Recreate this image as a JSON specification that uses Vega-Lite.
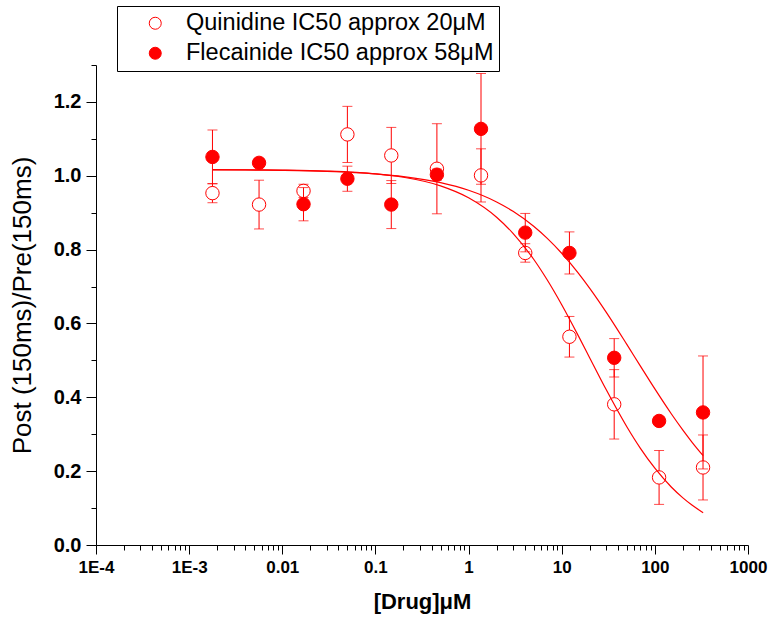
{
  "$schema": "https://vega.github.io/schema/vega-lite/v6.json",
  "autosize": {"type": "none"},
  "width": 652,
  "height": 480,
  "padding": {"left": 96, "top": 65, "right": 23, "bottom": 78},
  "background": "white",
  "config": {
    "font": "Liberation Sans",
    "view": {"stroke": null},
    "axis": {"grid": false, "domainColor": "black", "tickColor": "black", "labelColor": "black", "titleColor": "black", "labelFlush": false, "labelOverlap": false}
  },
  "datasets": {
    "measured": [
      {"drug": "Quinidine", "conc": 0.00178, "mean": 0.953, "sem": 0.026},
      {"drug": "Quinidine", "conc": 0.00563, "mean": 0.922, "sem": 0.066},
      {"drug": "Quinidine", "conc": 0.0169, "mean": 0.959, "sem": 0.018},
      {"drug": "Quinidine", "conc": 0.05, "mean": 1.112, "sem": 0.076},
      {"drug": "Quinidine", "conc": 0.148, "mean": 1.055, "sem": 0.076},
      {"drug": "Quinidine", "conc": 0.457, "mean": 1.019, "sem": 0.122},
      {"drug": "Quinidine", "conc": 1.36, "mean": 1.001, "sem": 0.072},
      {"drug": "Quinidine", "conc": 4.06, "mean": 0.791, "sem": 0.025},
      {"drug": "Quinidine", "conc": 12.1, "mean": 0.564, "sem": 0.055},
      {"drug": "Quinidine", "conc": 36.6, "mean": 0.381, "sem": 0.094},
      {"drug": "Quinidine", "conc": 111, "mean": 0.183, "sem": 0.073},
      {"drug": "Quinidine", "conc": 329, "mean": 0.21, "sem": 0.088},
      {"drug": "Flecainide", "conc": 0.00178, "mean": 1.051, "sem": 0.073},
      {"drug": "Flecainide", "conc": 0.00563, "mean": 1.035, "sem": 0.012},
      {"drug": "Flecainide", "conc": 0.0169, "mean": 0.923, "sem": 0.045},
      {"drug": "Flecainide", "conc": 0.05, "mean": 0.992, "sem": 0.034},
      {"drug": "Flecainide", "conc": 0.148, "mean": 0.922, "sem": 0.065},
      {"drug": "Flecainide", "conc": 0.457, "mean": 1.003, "sem": 0.015},
      {"drug": "Flecainide", "conc": 1.36, "mean": 1.127, "sem": 0.15},
      {"drug": "Flecainide", "conc": 4.06, "mean": 0.846, "sem": 0.052},
      {"drug": "Flecainide", "conc": 12.1, "mean": 0.791, "sem": 0.057},
      {"drug": "Flecainide", "conc": 36.6, "mean": 0.507, "sem": 0.052},
      {"drug": "Flecainide", "conc": 111, "mean": 0.336, "sem": 0.01},
      {"drug": "Flecainide", "conc": 329, "mean": 0.359, "sem": 0.153}
    ],
    "fitted": [
      {"drug": "Quinidine", "conc": 0.0018, "fit": 1.0166},
      {"drug": "Quinidine", "conc": 0.004, "fit": 1.0162},
      {"drug": "Quinidine", "conc": 0.01, "fit": 1.0153},
      {"drug": "Quinidine", "conc": 0.03, "fit": 1.0127},
      {"drug": "Quinidine", "conc": 0.1, "fit": 1.0052},
      {"drug": "Quinidine", "conc": 0.2, "fit": 0.996},
      {"drug": "Quinidine", "conc": 0.5, "fit": 0.9727},
      {"drug": "Quinidine", "conc": 1, "fit": 0.9405},
      {"drug": "Quinidine", "conc": 2, "fit": 0.8878},
      {"drug": "Quinidine", "conc": 3, "fit": 0.8441},
      {"drug": "Quinidine", "conc": 5, "fit": 0.7739},
      {"drug": "Quinidine", "conc": 7, "fit": 0.7176},
      {"drug": "Quinidine", "conc": 10, "fit": 0.6507},
      {"drug": "Quinidine", "conc": 15, "fit": 0.5677},
      {"drug": "Quinidine", "conc": 20, "fit": 0.5066},
      {"drug": "Quinidine", "conc": 30, "fit": 0.4209},
      {"drug": "Quinidine", "conc": 50, "fit": 0.3203},
      {"drug": "Quinidine", "conc": 70, "fit": 0.2618},
      {"drug": "Quinidine", "conc": 100, "fit": 0.2079},
      {"drug": "Quinidine", "conc": 150, "fit": 0.1571},
      {"drug": "Quinidine", "conc": 200, "fit": 0.1276},
      {"drug": "Quinidine", "conc": 250, "fit": 0.1081},
      {"drug": "Quinidine", "conc": 330, "fit": 0.0876},
      {"drug": "Flecainide", "conc": 0.0018, "fit": 1.0162},
      {"drug": "Flecainide", "conc": 0.004, "fit": 1.0157},
      {"drug": "Flecainide", "conc": 0.01, "fit": 1.0145},
      {"drug": "Flecainide", "conc": 0.03, "fit": 1.0117},
      {"drug": "Flecainide", "conc": 0.1, "fit": 1.005},
      {"drug": "Flecainide", "conc": 0.2, "fit": 0.9977},
      {"drug": "Flecainide", "conc": 0.5, "fit": 0.9813},
      {"drug": "Flecainide", "conc": 1, "fit": 0.9607},
      {"drug": "Flecainide", "conc": 2, "fit": 0.9291},
      {"drug": "Flecainide", "conc": 3, "fit": 0.9038},
      {"drug": "Flecainide", "conc": 5, "fit": 0.8633},
      {"drug": "Flecainide", "conc": 7, "fit": 0.8305},
      {"drug": "Flecainide", "conc": 10, "fit": 0.7902},
      {"drug": "Flecainide", "conc": 15, "fit": 0.737},
      {"drug": "Flecainide", "conc": 20, "fit": 0.695},
      {"drug": "Flecainide", "conc": 30, "fit": 0.6307},
      {"drug": "Flecainide", "conc": 50, "fit": 0.5433},
      {"drug": "Flecainide", "conc": 70, "fit": 0.4845},
      {"drug": "Flecainide", "conc": 100, "fit": 0.4227},
      {"drug": "Flecainide", "conc": 150, "fit": 0.3555},
      {"drug": "Flecainide", "conc": 200, "fit": 0.3112},
      {"drug": "Flecainide", "conc": 250, "fit": 0.2789},
      {"drug": "Flecainide", "conc": 330, "fit": 0.2418}
    ]
  },
  "resolve": {"axis": {"x": "independent", "y": "independent"}},
  "layer": [
    {
      "data": {"name": "measured"},
      "transform": [{"filter": "datum.drug === 'Quinidine'"}],
      "mark": {"type": "errorbar", "color": "red", "ticks": {"size": 10, "thickness": 1}, "rule": {"strokeWidth": 1}},
      "encoding": {
        "x": {"field": "conc", "type": "quantitative", "scale": {"type": "log", "domain": [0.0001, 1000], "nice": false}, "axis": null},
        "y": {"field": "mean", "type": "quantitative", "scale": {"domain": [0, 1.3], "nice": false, "zero": false}, "axis": null},
        "yError": {"field": "sem"}
      }
    },
    {
      "data": {"name": "measured"},
      "transform": [{"filter": "datum.drug === 'Quinidine'"}],
      "mark": {"type": "point", "shape": "circle", "filled": true, "size": 180, "stroke": "red", "strokeWidth": 1, "opacity": 1},
      "encoding": {
        "x": {
          "field": "conc", "type": "quantitative",
          "scale": {"type": "log", "domain": [0.0001, 1000], "nice": false},
          "axis": {
            "orient": "bottom",
            "values": [0.0001, 0.001, 0.01, 0.1, 1, 10, 100, 1000],
            "labelExpr": "datum.value < 0.00015 ? '1E-4' : datum.value < 0.0015 ? '1E-3' : format(datum.value, '~g')",
            "tickSize": 9, "labelPadding": 5,
            "labelFontSize": 17, "labelFontWeight": "bold",
            "title": "[Drug]μM", "titleFontSize": 22, "titleFontWeight": "bold", "titlePadding": 16
          }
        },
        "y": {
          "field": "mean", "type": "quantitative",
          "scale": {"domain": [0, 1.3], "nice": false, "zero": false},
          "axis": {
            "orient": "left",
            "values": [0, 0.2, 0.4, 0.6, 0.8, 1.0, 1.2],
            "format": ".1f",
            "tickSize": 10, "labelPadding": 5,
            "labelFontSize": 20, "labelFontWeight": "bold",
            "title": "Post (150ms)/Pre(150ms)", "titleFontSize": 26, "titleFontWeight": "normal", "titlePadding": 18
          }
        },
        "fill": {
          "field": "drug", "type": "nominal",
          "scale": {"domain": ["Quinidine", "Flecainide"], "range": ["white", "red"]},
          "legend": {
            "orient": "none", "legendX": 21, "legendY": -59,
            "title": null, "strokeColor": "black", "padding": 5.5, "rowPadding": 5,
            "symbolType": "circle", "symbolSize": 144, "symbolStrokeColor": "red", "symbolStrokeWidth": 1,
            "symbolOffset": 21, "labelOffset": 19,
            "labelFontSize": 23.5, "labelColor": "black", "labelLimit": 0,
            "labelExpr": "datum.label === 'Quinidine' ? 'Quinidine IC50 approx 20μM\u00a0\u00a0' : 'Flecainide IC50 approx 58μM\u00a0\u00a0'"
          }
        }
      }
    },
    {
      "data": {"name": "measured"},
      "transform": [{"filter": "datum.drug === 'Flecainide'"}],
      "mark": {"type": "errorbar", "color": "red", "ticks": {"size": 10, "thickness": 1}, "rule": {"strokeWidth": 1}},
      "encoding": {
        "x": {"field": "conc", "type": "quantitative", "scale": {"type": "log", "domain": [0.0001, 1000], "nice": false}, "axis": null},
        "y": {"field": "mean", "type": "quantitative", "scale": {"domain": [0, 1.3], "nice": false, "zero": false}, "axis": null},
        "yError": {"field": "sem"}
      }
    },
    {
      "data": {"name": "measured"},
      "transform": [{"filter": "datum.drug === 'Flecainide'"}],
      "mark": {"type": "point", "shape": "circle", "filled": true, "size": 180, "stroke": "red", "strokeWidth": 1, "opacity": 1},
      "encoding": {
        "x": {
          "field": "conc", "type": "quantitative",
          "scale": {"type": "log", "domain": [0.0001, 1000], "nice": false},
          "axis": {
            "orient": "bottom",
            "values": [0.0002, 0.0003, 0.0004, 0.0005, 0.0006, 0.0007, 0.0008, 0.0009,
                       0.002, 0.003, 0.004, 0.005, 0.006, 0.007, 0.008, 0.009,
                       0.02, 0.03, 0.04, 0.05, 0.06, 0.07, 0.08, 0.09,
                       0.2, 0.3, 0.4, 0.5, 0.6, 0.7, 0.8, 0.9,
                       2, 3, 4, 5, 6, 7, 8, 9,
                       20, 30, 40, 50, 60, 70, 80, 90,
                       200, 300, 400, 500, 600, 700, 800, 900],
            "tickSize": 5, "labels": false, "domain": false, "title": null
          }
        },
        "y": {
          "field": "mean", "type": "quantitative",
          "scale": {"domain": [0, 1.3], "nice": false, "zero": false},
          "axis": {
            "orient": "left",
            "values": [0.1, 0.3, 0.5, 0.7, 0.9, 1.1, 1.3],
            "tickSize": 5, "labels": false, "domain": false, "title": null
          }
        },
        "fill": {
          "field": "drug", "type": "nominal",
          "scale": {"domain": ["Quinidine", "Flecainide"], "range": ["white", "red"]},
          "legend": {
            "orient": "none", "legendX": 21, "legendY": -59,
            "title": null, "strokeColor": "black", "padding": 5.5, "rowPadding": 5,
            "symbolType": "circle", "symbolSize": 144, "symbolStrokeColor": "red", "symbolStrokeWidth": 1,
            "symbolOffset": 21, "labelOffset": 19,
            "labelFontSize": 23.5, "labelColor": "black", "labelLimit": 0,
            "labelExpr": "datum.label === 'Quinidine' ? 'Quinidine IC50 approx 20μM\u00a0\u00a0' : 'Flecainide IC50 approx 58μM\u00a0\u00a0'"
          }
        }
      }
    },
    {
      "data": {"name": "fitted"},
      "mark": {"type": "line", "color": "red", "strokeWidth": 1.2, "interpolate": "monotone"},
      "encoding": {
        "x": {"field": "conc", "type": "quantitative", "scale": {"type": "log", "domain": [0.0001, 1000], "nice": false}, "axis": null},
        "y": {"field": "fit", "type": "quantitative", "scale": {"domain": [0, 1.3], "nice": false, "zero": false}, "axis": null},
        "detail": {"field": "drug"}
      }
    }
  ]
}
